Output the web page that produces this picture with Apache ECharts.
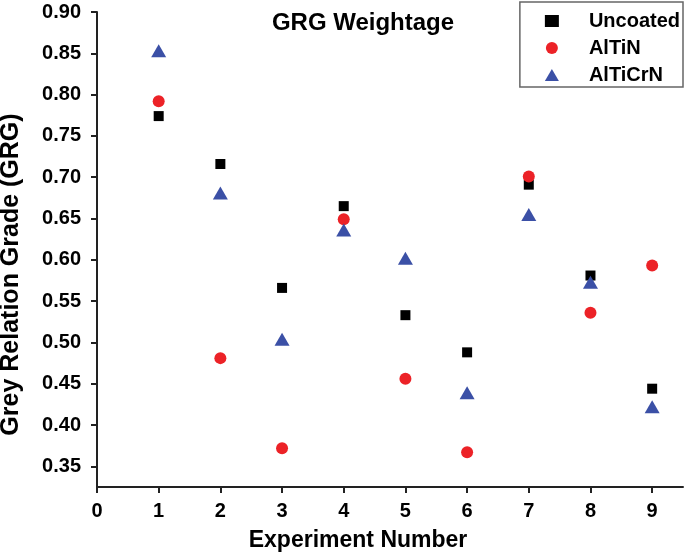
<!DOCTYPE html>
<html>
<head>
<meta charset="utf-8">
<script src="https://cdn.jsdelivr.net/npm/echarts@6/dist/echarts.min.js"></script>
<style>html,body{margin:0;padding:0;background:#fff}#c{width:685px;height:559px}</style>
</head>
<body>
<div id="c"></div>
<script>
const experiments = [1, 2, 3, 4, 5, 6, 7, 8, 9];
const uncoated = [0.774, 0.716, 0.566, 0.665, 0.533, 0.488, 0.691, 0.581, 0.444];
const altin = [0.792, 0.481, 0.372, 0.649, 0.456, 0.367, 0.701, 0.536, 0.593];
const altikrn = [0.853, 0.681, 0.504, 0.636, 0.602, 0.439, 0.655, 0.573, 0.422];
const xTicks = [0, 1, 2, 3, 4, 5, 6, 7, 8, 9];
const yTicks = [0.35, 0.40, 0.45, 0.50, 0.55, 0.60, 0.65, 0.70, 0.75, 0.80, 0.85, 0.90];

const font = 'Liberation Sans, Arial, sans-serif';
const pairs = arr => experiments.map((x, i) => [x, arr[i]]);

const chart = echarts.init(document.getElementById('c'));
chart.setOption({
  animation: false,
  title: {
    text: 'GRG Weightage', left: 358, top: 6, textAlign: 'center',
    textStyle: { fontFamily: font, fontWeight: 'bold', fontSize: 24, color: '#000' }
  },
  legend: {
    orient: 'vertical', right: 2, top: 2,
    borderColor: '#666', borderWidth: 1.5, backgroundColor: '#fff',
    padding: [9, 3, 2, 25], itemGap: 7,
    itemWidth: 14, itemHeight: 12,
    textStyle: { fontFamily: font, fontWeight: 'bold', fontSize: 20, lineHeight: 20, color: '#000', padding: [0, 0, 0, 25] },
    data: [
      { name: 'Uncoated', icon: 'rect', itemStyle: { opacity: 1 } },
      { name: 'AlTiN', icon: 'circle', itemStyle: { opacity: 1 } },
      { name: 'AlTiCrN', icon: 'triangle', itemStyle: { opacity: 1 } }
    ]
  },
  grid: { left: 97, right: 2, top: 12, bottom: 72, containLabel: false, outerBoundsMode: 'none' },
  xAxis: {
    type: 'value', min: 0, max: 9.5,
    name: 'Experiment Number', nameLocation: 'middle', nameGap: 42,
    nameTextStyle: { fontFamily: font, fontWeight: 'bold', fontSize: 23, color: '#000', padding: [0, 64, 0, 0] },
    axisLine: { show: true, lineStyle: { color: '#222', width: 2 } },
    axisTick: { show: true, length: 6, lineStyle: { color: '#222', width: 2 }, customValues: xTicks },
    axisLabel: { fontFamily: font, fontWeight: 'bold', fontSize: 20, color: '#000', margin: 14, customValues: xTicks },
    splitLine: { show: false }
  },
  yAxis: {
    type: 'value', min: 0.325, max: 0.9,
    name: 'Grey Relation Grade (GRG)', nameLocation: 'middle', nameGap: 73,
    nameTextStyle: { fontFamily: font, fontWeight: 'bold', fontSize: 25, color: '#000', padding: [0, 50, 0, 0] },
    axisLine: { show: true, lineStyle: { color: '#222', width: 2 } },
    axisTick: { show: true, length: 6, lineStyle: { color: '#222', width: 2 }, customValues: yTicks },
    axisLabel: { fontFamily: font, fontWeight: 'bold', fontSize: 20, color: '#000', margin: 16,
      customValues: yTicks, formatter: v => v.toFixed(2) },
    splitLine: { show: false }
  },
  series: [
    { name: 'Uncoated', type: 'scatter', symbol: 'rect', symbolSize: 10,
      itemStyle: { color: '#000', opacity: 1 }, data: pairs(uncoated) },
    { name: 'AlTiN', type: 'scatter', symbol: 'circle', symbolSize: 12,
      itemStyle: { color: '#ec2227', opacity: 1 }, data: pairs(altin) },
    { name: 'AlTiCrN', type: 'scatter', symbol: 'triangle', symbolSize: [15, 13],
      itemStyle: { color: '#3b50a6', opacity: 1 }, data: pairs(altikrn) }
  ]
});
</script>
</body>
</html>
